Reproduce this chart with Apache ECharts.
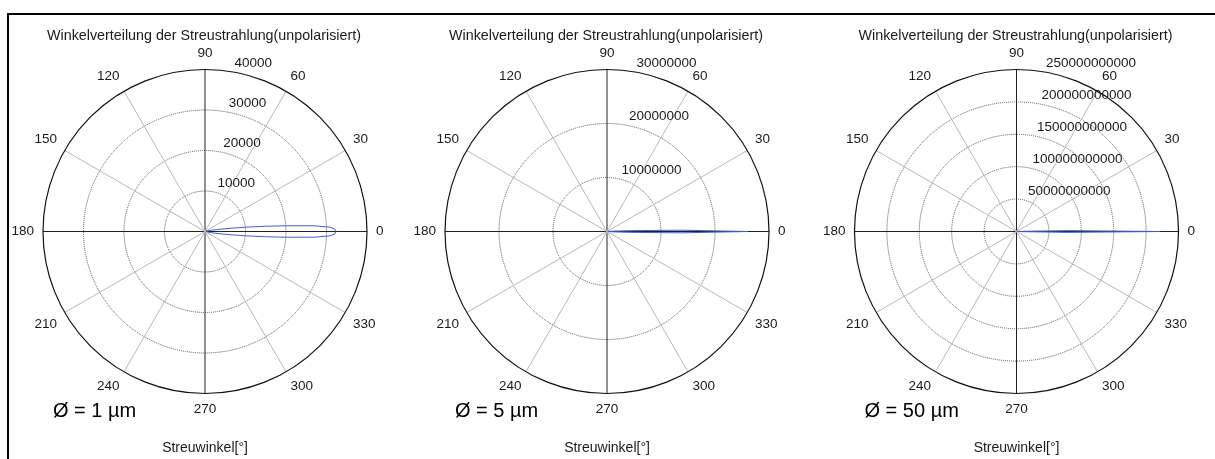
<!DOCTYPE html>
<html>
<head>
<meta charset="utf-8">
<script src="https://cdn.jsdelivr.net/npm/echarts@6/dist/echarts.min.js"></script>
<style>
  html, body { margin: 0; padding: 0; background: #ffffff; }
  #chart { width: 1215px; height: 459px; }
</style>
</head>
<body>
<div id="chart"></div>
<script>
// Scattering angles (degrees, 0..180; the pattern is mirrored for 180..360)
const scatterAngles = [0, 1, 2, 3, 4, 5, 6, 7, 8, 9, 10, 11, 12, 13, 14, 15, 20, 30, 45, 60, 90, 120, 150, 180];

// Scattered intensity for particle diameter 1 µm
const intensity1um = [32270, 32100, 30860, 26910, 20250, 14810, 10370, 6910, 4440, 2960, 1980, 1360, 990, 740, 620, 490, 380, 260, 190, 150, 110, 100, 120, 150];

// Scattered intensity for particle diameter 5 µm
const intensity5um = [26100000, 13900000, 4600000, 1500000, 550000, 280000, 180000, 150000, 130000, 120000, 110000, 100000, 90000, 80000, 75000, 70000, 60000, 50000, 40000, 30000, 25000, 20000, 25000, 30000];

// Scattered intensity for particle diameter 50 µm
const intensity50um = [221000000000, 80000000000, 6000000000, 2000000000, 1000000000, 600000000, 400000000, 300000000, 250000000, 200000000, 180000000, 160000000, 150000000, 140000000, 130000000, 120000000, 100000000, 80000000, 60000000, 50000000, 40000000, 40000000, 50000000, 60000000];

// Radial grid ticks of each panel
const radiusTicks1um = [0, 10000, 20000, 30000, 40000];
const radiusTicks5um = [0, 10000000, 20000000, 30000000];
const radiusTicks50um = [0, 50000000000, 100000000000, 150000000000, 200000000000, 250000000000];

// Angular ticks (degrees)
const angleTicks = [0, 30, 60, 90, 120, 150, 180, 210, 240, 270, 300, 330];

const panelTitle = 'Winkelverteilung der Streustrahlung(unpolarisiert)';
const angleAxisTitle = 'Streuwinkel[°]';
const diameterLabels = ['Ø = 1 µm', 'Ø = 5 µm', 'Ø = 50 µm'];

const FONT = '"Liberation Sans", Arial, Helvetica, sans-serif';
const TEXT = '#1a1a1a';
const CY = 231.5;
const R = 162;

const panels = [
  { cx: 205, values: intensity1um, ticks: radiusTicks1um, label: diameterLabels[0] },
  { cx: 607, values: intensity5um, ticks: radiusTicks5um, label: diameterLabels[1] },
  { cx: 1016.5, values: intensity50um, ticks: radiusTicks50um, label: diameterLabels[2] }
];

// Closed polar curve: 0 -> 180 and mirrored back to 360
function mirroredCurve(angles, values) {
  const pts = angles.map((a, i) => [values[i], a]);
  for (let i = angles.length - 2; i >= 0; i--) {
    pts.push([values[i], 360 - angles[i]]);
  }
  return pts;
}

const polar = [], angleAxis = [], radiusAxis = [], series = [], title = [], graphic = [];

panels.forEach((p, k) => {
  const rMin = p.ticks[0];
  const rMax = p.ticks[p.ticks.length - 1];
  const rStep = p.ticks[1] - p.ticks[0];
  const aStep = angleTicks[1] - angleTicks[0];
  const gi = 2 * k;      // grid + data polar
  const li = 2 * k + 1;  // radial label polar (axis at 82°)

  polar.push({ center: [p.cx, CY], radius: R });
  polar.push({ center: [p.cx, CY], radius: R });

  angleAxis.push({
    polarIndex: gi, type: 'value', min: angleTicks[0], max: 360, interval: aStep,
    startAngle: 0, clockwise: false,
    axisLine: { show: true, lineStyle: { color: '#111', width: 1.2 } },
    axisTick: { show: false },
    axisLabel: {
      show: true, margin: 9, color: TEXT, fontSize: 13.5, fontFamily: FONT,
      formatter: v => (v === 360 ? '' : String(v))
    },
    splitLine: { show: true, lineStyle: { color: ['#222', '#b8b8b8', '#b8b8b8'], width: 1 } }
  });
  angleAxis.push({
    polarIndex: li, type: 'value', min: 0, max: 360, startAngle: 82, clockwise: false, show: false
  });

  const ringColors = p.ticks.map((t, i) => (i === p.ticks.length - 1 ? 'rgba(0,0,0,0)' : '#555'));
  radiusAxis.push({
    polarIndex: gi, type: 'value', min: rMin, max: rMax, interval: rStep,
    axisLine: { show: false }, axisTick: { show: false }, axisLabel: { show: false },
    splitLine: { show: true, lineStyle: { type: 'dotted', color: ringColors, width: 1 } }
  });
  radiusAxis.push({
    polarIndex: li, type: 'value', min: rMin, max: rMax, interval: rStep,
    axisLine: { show: false }, axisTick: { show: false }, splitLine: { show: false },
    axisLabel: {
      show: true, margin: -7, align: 'left', verticalAlign: 'bottom', padding: [0, 0, 2, 0],
      color: TEXT, fontSize: 13.5, fontFamily: FONT,
      formatter: v => (v === 0 ? '' : String(v))
    }
  });

  series.push({
    type: 'line', coordinateSystem: 'polar', polarIndex: gi,
    data: mirroredCurve(scatterAngles, p.values),
    symbol: 'none', smooth: false, silent: true, z: 5,
    lineStyle: { color: '#4060cc', width: 1 }
  });

  title.push({
    text: panelTitle, left: p.cx - 6, top: 24, textAlign: 'center',
    textStyle: { color: TEXT, fontSize: 14.3, fontWeight: 'normal', fontFamily: FONT }
  });

  graphic.push({
    type: 'text', left: p.cx - 152, top: 401,
    style: { text: p.label, fill: '#000', font: '20px ' + FONT }
  });
  graphic.push({
    type: 'text', x: p.cx, y: 448,
    style: { text: angleAxisTitle, fill: TEXT, font: '14px ' + FONT, align: 'center', verticalAlign: 'middle' }
  });
});

// Outer frame (top and left edges)
graphic.push({
  type: 'polyline',
  shape: { points: [[8, 470], [8, 14], [1225, 14]] },
  style: { stroke: '#000', lineWidth: 2, fill: null }
});

const chart = echarts.init(document.getElementById('chart'), null, { renderer: 'canvas' });
chart.setOption({
  backgroundColor: '#ffffff',
  animation: false,
  title, polar, angleAxis, radiusAxis, series, graphic
});
</script>
</body>
</html>
